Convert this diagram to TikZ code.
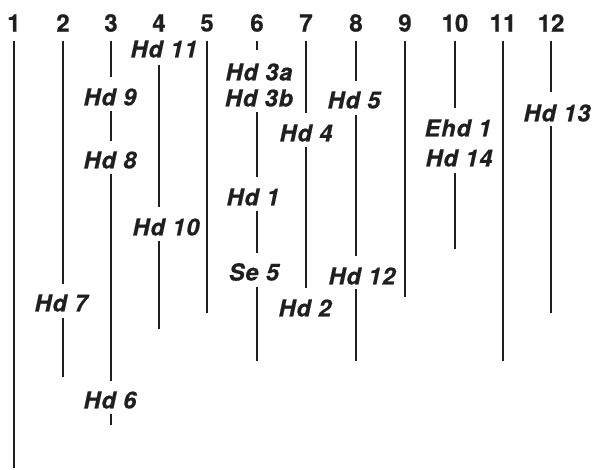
\documentclass[tikz,border=0pt]{standalone}
\usepackage{fontspec}
\setmainfont{TeX Gyre Heros}
\tikzset{
  lbl/.style={font=\fontsize{23.5}{23.5}\selectfont\bfseries\itshape\addfontfeature{LetterSpace=4,FakeBold=0.6}, inner sep=0pt, text=black!88},
  num/.style={font=\fontsize{24}{24}\selectfont\bfseries\addfontfeature{FakeBold=0.6}, inner sep=0pt, text=black!88},
  ln/.style={line width=2.2pt, draw=black!88}
}
\begin{document}
\begin{tikzpicture}[x=1pt,y=-1pt]
\useasboundingbox (0,0) rectangle (596,470);
% column numbers
\node[num] (n1) at (14,23) {1};
\node[num] (n2) at (63,23) {2};
\node[num] (n3) at (111,23) {3};
\node[num] (n4) at (159,23) {4};
\node[num] (n5) at (207,23) {5};
\node[num] (n6) at (257,23) {6};
\node[num] (n7) at (306,23) {7};
\node[num] (n8) at (356,23) {8};
\node[num] (n9) at (405,23) {9};
\node[num] (n10) at (455,23) {10};
\node[num] (n11) at (503,23) {11};
\node[num] (n12) at (551,23) {12};
% labels
\node[lbl] (hd11) at (164,49) {Hd 11};
\node[lbl] (hd9) at (110,97) {Hd 9};
\node[lbl] (hd8) at (110,160) {Hd 8};
\node[lbl] (hd6) at (110,400) {Hd 6};
\node[lbl] (hd7) at (61,303) {Hd 7};
\node[lbl] (hd10) at (166,227) {Hd 10};
\node[lbl] (hd3a) at (259,72) {Hd 3a};
\node[lbl] (hd3b) at (259,98) {Hd 3b};
\node[lbl] (hd1) at (253,197) {Hd 1};
\node[lbl] (se5) at (254,272) {Se 5};
\node[lbl] (hd4) at (306,133) {Hd 4};
\node[lbl] (hd2) at (305,308) {Hd 2};
\node[lbl] (hd5) at (354,100) {Hd 5};
\node[lbl] (hd12) at (362,276) {Hd 12};
\node[lbl] (ehd1) at (458,128) {Ehd 1};
\node[lbl] (hd14) at (459,158) {Hd 14};
\node[lbl] (hd13) at (557,113) {Hd 13};
% line end points
\coordinate (c1a) at (14,41);   \coordinate (c1b) at (14,468);
\coordinate (c2a) at (63,41);   \coordinate (c2b) at (63,284);
\coordinate (c2c) at (63,318);  \coordinate (c2d) at (63,377);
\coordinate (c3a) at (111,41);  \coordinate (c3b) at (111,77);
\coordinate (c3c) at (111,111); \coordinate (c3d) at (111,141);
\coordinate (c3e) at (111,174); \coordinate (c3f) at (111,381);
\coordinate (c3g) at (111,414); \coordinate (c3h) at (111,425);
\coordinate (c4a) at (159,65);  \coordinate (c4b) at (159,207);
\coordinate (c4c) at (159,241); \coordinate (c4d) at (159,329);
\coordinate (c5a) at (207,41);  \coordinate (c5b) at (207,313);
\coordinate (c6a) at (257,41);  \coordinate (c6b) at (257,50);
\coordinate (c6c) at (257,112); \coordinate (c6d) at (257,177);
\coordinate (c6e) at (257,211); \coordinate (c6f) at (257,253);
\coordinate (c6g) at (257,287); \coordinate (c6h) at (257,361);
\coordinate (c7a) at (306,41);  \coordinate (c7b) at (306,113);
\coordinate (c7c) at (306,147); \coordinate (c7d) at (306,288);
\coordinate (c8a) at (356,41);  \coordinate (c8b) at (356,81);
\coordinate (c8c) at (356,115); \coordinate (c8d) at (356,256);
\coordinate (c8e) at (356,289); \coordinate (c8f) at (356,361);
\coordinate (c9a) at (405,41);  \coordinate (c9b) at (405,297);
\coordinate (c10a) at (455,41); \coordinate (c10b) at (455,108);
\coordinate (c10c) at (455,173);\coordinate (c10d) at (455,249);
\coordinate (c11a) at (503,41); \coordinate (c11b) at (503,361);
\coordinate (c12a) at (551,41); \coordinate (c12b) at (551,92);
\coordinate (c12c) at (551,126);\coordinate (c12d) at (551,313);
% lines
\draw[ln] (c1a) -- (c1b);
\draw[ln] (c2a) -- (c2b);  \draw[ln] (c2c) -- (c2d);
\draw[ln] (c3a) -- (c3b);  \draw[ln] (c3c) -- (c3d);
\draw[ln] (c3e) -- (c3f);  \draw[ln] (c3g) -- (c3h);
\draw[ln] (c4a) -- (c4b);  \draw[ln] (c4c) -- (c4d);
\draw[ln] (c5a) -- (c5b);
\draw[ln] (c6a) -- (c6b);  \draw[ln] (c6c) -- (c6d);
\draw[ln] (c6e) -- (c6f);  \draw[ln] (c6g) -- (c6h);
\draw[ln] (c7a) -- (c7b);  \draw[ln] (c7c) -- (c7d);
\draw[ln] (c8a) -- (c8b);  \draw[ln] (c8c) -- (c8d);
\draw[ln] (c8e) -- (c8f);
\draw[ln] (c9a) -- (c9b);
\draw[ln] (c10a) -- (c10b); \draw[ln] (c10c) -- (c10d);
\draw[ln] (c11a) -- (c11b);
\draw[ln] (c12a) -- (c12b); \draw[ln] (c12c) -- (c12d);
\end{tikzpicture}
\end{document}
